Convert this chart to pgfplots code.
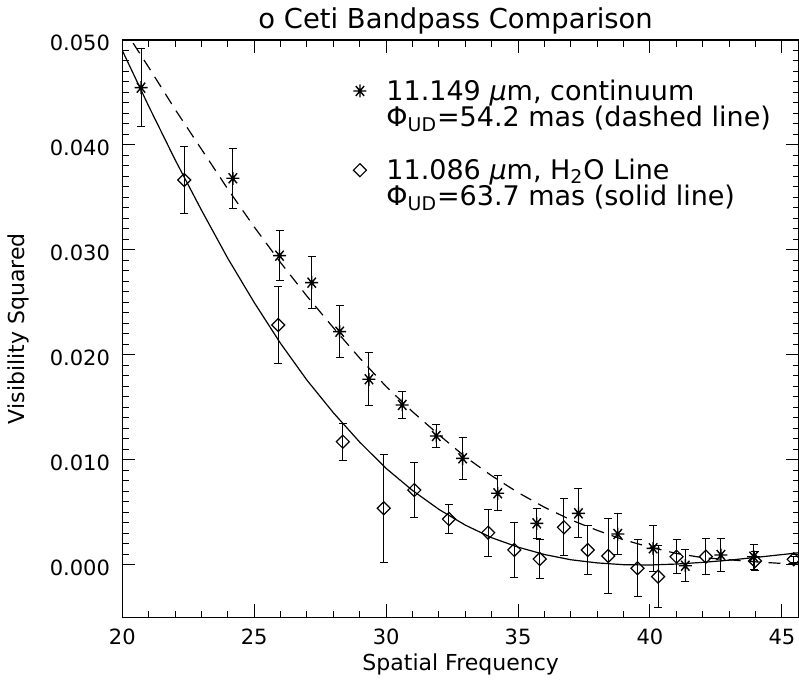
\documentclass[border=0pt]{standalone}
\usepackage{fontspec}
\setmainfont{DejaVu Sans}
\usepackage{pgfplots}
\usepackage{pgfplotstable}
\pgfplotsset{compat=1.18}

% IDL style asterisk: horizontal, vertical and two diagonals
\pgfdeclareplotmark{ast}{%
  \pgfpathmoveto{\pgfqpoint{-\pgfplotmarksize}{0pt}}%
  \pgfpathlineto{\pgfqpoint{\pgfplotmarksize}{0pt}}%
  \pgfpathmoveto{\pgfqpoint{0pt}{-\pgfplotmarksize}}%
  \pgfpathlineto{\pgfqpoint{0pt}{\pgfplotmarksize}}%
  \pgfpathmoveto{\pgfpointpolar{50}{\pgfplotmarksize}}%
  \pgfpathlineto{\pgfpointpolar{230}{\pgfplotmarksize}}%
  \pgfpathmoveto{\pgfpointpolar{130}{\pgfplotmarksize}}%
  \pgfpathlineto{\pgfpointpolar{310}{\pgfplotmarksize}}%
  \pgfusepathqstroke}

% 11.149 um continuum
\pgfplotstableread{
x      y        e
20.71  0.04546  0.00373
24.19  0.03683  0.00288
25.96  0.02946  0.00241
27.18  0.02689  0.00250
28.24  0.02222  0.00247
29.35  0.01769  0.00253
30.61  0.01524  0.00124
31.90  0.01229  0.00110
32.90  0.01016  0.00198
34.23  0.00683  0.00167
35.71  0.00397  0.00141
37.29  0.00492  0.00234
38.78  0.00295  0.00195
40.12  0.00159  0.00219
41.34  -0.00007 0.00153
42.69  0.00095  0.00159
43.93  0.00079  0.00119
}\cont

% 11.086 um H2O line
\pgfplotstableread{
x      y        e
22.35  0.03667  0.00320
25.91  0.02286  0.00370
28.36  0.01174  0.00178
29.91  0.00540  0.00516
31.07  0.00714  0.00264
32.38  0.00438  0.00140
33.87  0.00308  0.00225
34.86  0.00143  0.00265
35.82  0.00057  0.00183
36.74  0.00359  0.00270
37.64  0.00143  0.00229
38.42  0.00086  0.00360
39.53  -0.00031 0.00273
40.31  -0.00111 0.00298
41.01  0.00079  0.00162
42.12  0.00079  0.00170
43.98  0.00038  0.00090
45.45  0.00054  0.00030
}\hoo

% fits
\pgfplotstableread{
x      y
20     0.0490
21     0.0437
22     0.0386
23     0.0338
24     0.0292
25     0.0250
26     0.0211
27     0.0176
28     0.0145
29     0.0117
30     0.0092
31     0.0071
32     0.0053
33     0.0038
34     0.0026
35     0.0017
36     0.0010
37     0.0005
38     0.0002
39     0.00003
40     0.0000
41     0.00009
42     0.00025
43     0.00046
44     0.00072
45     0.00099
45.65  0.00117
}\solidfit

\pgfplotstableread{
x      y
20     0.0513
21     0.0474
22     0.0434
23     0.0396
24     0.0358
25     0.0322
26     0.0288
27     0.0256
28     0.0226
29     0.0197
30     0.0170
31     0.0146
32     0.0124
33     0.0103
34     0.0085
35     0.0069
36     0.0055
37     0.0043
38     0.0033
39     0.0024
40     0.0017
41     0.0011
42     0.0007
43     0.0005
44     0.0003
45     0.00015
45.65  0.0001
}\dashfit

\begin{document}
\begin{tikzpicture}
\path[use as bounding box] (0,0) rectangle (399.5bp,341.5bp);
\begin{axis}[
    at={(61.15bp,32.75bp)}, anchor=south west,
    scale only axis,
    width=338.35bp, height=288.75bp,
    xmin=20, xmax=45.65,
    ymin=-0.005, ymax=0.05,
    xtick={20,25,30,35,40,45},
    ytick={0,0.01,0.02,0.03,0.04,0.05},
    minor x tick num=4,
    minor y tick num=9,
    tick align=inside,
    major tick length=6.5bp,
    minor tick length=3.25bp,
    tick style={line width=0.5bp, black},
    axis line style={line width=0.6bp},
    scaled y ticks=false,
    /pgf/number format/assume math mode=true,
    tick label style={font=\fontsize{10.5bp}{12bp}\selectfont},
    yticklabel style={/pgf/number format/fixed, /pgf/number format/fixed zerofill,
        /pgf/number format/precision=3, anchor=east, inner sep=0pt, xshift=-6bp, yshift=-1.5bp},
    xticklabel style={anchor=north, inner sep=0pt, yshift=-5.75bp},
    xlabel={Spatial Frequency},
    xlabel style={at={(axis description cs:0.5,0)}, anchor=base, yshift=-26.25bp,
        font=\fontsize{11bp}{13bp}\selectfont},
    ylabel={Visibility Squared},
    ylabel style={at={(axis description cs:-0.1438,0.5)}, anchor=base,
        font=\fontsize{11bp}{13bp}\selectfont},
    title={o Ceti Bandpass Comparison},
    title style={at={(axis description cs:0.5,1)}, anchor=base, xshift=-2.5bp,
        font=\fontsize{13.7bp}{16bp}\selectfont},
    legend style={at={(axis description cs:0.3416,0.9346)}, anchor=north west,
        draw=none, fill=none, inner sep=0pt, outer sep=0pt,
        row sep=0pt, column sep=10bp,
        font=\fontsize{13.5bp}{15bp}\selectfont,
        nodes={inner sep=0pt, text height=11.3bp, text depth=1.9bp}},
    legend cell align=left,
    legend image code/.code={\draw[#1] plot coordinates {(0bp,0bp)};},
]
\addplot[forget plot, black, line width=0.6bp] table[x=x, y=y] {\solidfit};
\addplot[forget plot, black, line width=0.6bp, dash pattern=on 6bp off 4bp] table[x=x, y=y] {\dashfit};

\addplot[black, only marks, mark=ast, mark size=3.25bp,
    mark options={line width=0.7bp, black},
    error bars/.cd, y dir=both, y explicit,
    error bar style={line width=0.5bp, black},
    error mark options={rotate=90, mark size=2bp, line width=0.5bp, black}]
    table[x=x, y=y, y error=e] {\cont};
\addlegendentry{11.149 \textit{μ}m, continuum}
\addlegendimage{empty legend}
\addlegendentry{Φ\textsubscript{UD}=54.2 mas (dashed line)}
\addlegendimage{empty legend}
\addlegendentry{}

\addplot[black, only marks, mark=square, mark size=2.3bp,
    mark options={rotate=45, line width=0.6bp, black},
    error bars/.cd, y dir=both, y explicit,
    error bar style={line width=0.5bp, black},
    error mark options={rotate=90, mark size=2bp, line width=0.5bp, black}]
    table[x=x, y=y, y error=e] {\hoo};
\addlegendentry{11.086 \textit{μ}m, H\textsubscript{2}O Line}
\addlegendimage{empty legend}
\addlegendentry{Φ\textsubscript{UD}=63.7 mas (solid line)}
\end{axis}
\end{tikzpicture}
\end{document}
